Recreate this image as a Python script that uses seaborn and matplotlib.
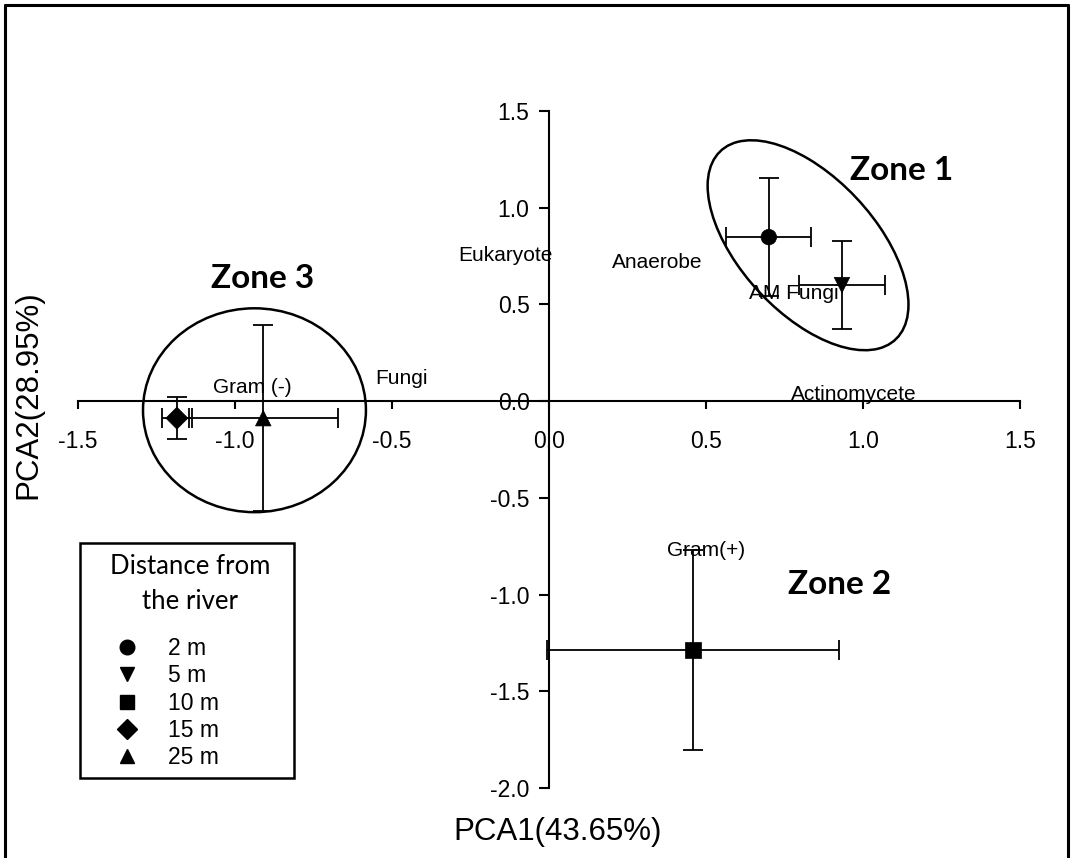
import numpy as np
import pandas as pd
import matplotlib
matplotlib.use("Agg")
import matplotlib.pyplot as plt
from matplotlib.patches import Ellipse, Rectangle
from matplotlib.lines import Line2D
import seaborn as sns

# PCA scores (mean +/- SE) of soil microbial groups by distance from the river
distances = ["2 m", "5 m", "10 m", "15 m", "25 m"]
pc1 = [0.70, 0.933, 0.459, -1.185, -0.91]
pc2 = [0.848, 0.60, -1.287, -0.088, -0.088]
pc1_err = [0.135, 0.138, 0.465, 0.048, 0.237]
pc2_err = [0.305, 0.227, 0.517, 0.11, 0.48]
marker_map = {"2 m": "o", "5 m": "v", "10 m": "s", "15 m": "D", "25 m": "^"}

# Loading labels of the microbial groups
group_names = ["Eukaryote", "Anaerobe", "AM Fungi", "Actinomycete",
               "Gram (-)", "Fungi", "Gram(+)"]
group_x = [-0.29, 0.20, 0.637, 0.771, -1.07, -0.554, 0.376]
group_y = [0.755, 0.718, 0.558, 0.036, 0.072, 0.119, -0.77]

# Zone labels and enclosing ellipses (centre, width, height, angle)
zone_names = ["Zone 1", "Zone 2", "Zone 3"]
zone_x = [0.959, 0.761, -1.076]
zone_y = [1.19, -0.95, 0.635]
zone1_ellipse = (0.825, 0.806, 1.159, 0.494, -67.2)
zone3_ellipse = (-0.938, -0.047, 0.71, 1.054, 0.0)

xticks = [-1.5, -1.0, -0.5, 0.0, 0.5, 1.0, 1.5]
yticks = [1.5, 1.0, 0.5, 0.0, -0.5, -1.0, -1.5, -2.0]

df = pd.DataFrame({"distance": distances, "PCA1": pc1, "PCA2": pc2,
                   "e1": pc1_err, "e2": pc2_err})

sns.set_style("white")
plt.rcParams["font.family"] = ["Liberation Sans", "DejaVu Sans"]
plt.rcParams.update({"text.color": "black", "axes.labelcolor": "black",
                     "xtick.color": "black", "ytick.color": "black"})

W, H = 1073, 858
fig = plt.figure(figsize=(W / 100, H / 100), dpi=100)
fig.patch.set_facecolor("white")
ax = fig.add_axes([78 / W, (H - 788) / H, 942 / W, 677 / H])
ax.set_xlim(-1.5, 1.5)
ax.set_ylim(-2.0, 1.5)
ax.set_facecolor("none")

# error bars
for _, r in df.iterrows():
    ax.errorbar(r["PCA1"], r["PCA2"], xerr=r["e1"], yerr=r["e2"], fmt="none",
                ecolor="black", elinewidth=1.3, capsize=7, capthick=1.3,
                zorder=3, clip_on=False)

sns.scatterplot(data=df, x="PCA1", y="PCA2", style="distance",
                markers=marker_map, color="black", s=125, edgecolor="black",
                linewidth=0.5, legend=False, ax=ax, zorder=4, clip_on=False)

# cross-shaped axes through the origin
for side in ["top", "right"]:
    ax.spines[side].set_visible(False)
ax.spines["left"].set_position(("data", 0))
ax.spines["bottom"].set_position(("data", 0))
ax.spines["left"].set_bounds(-2.0, 1.5)
ax.spines["bottom"].set_bounds(-1.5, 1.5)
for s in ["left", "bottom"]:
    ax.spines[s].set_linewidth(1.5)
    ax.spines[s].set_color("black")
ax.set_xticks(xticks)
ax.set_yticks(yticks)
ax.set_xticklabels([f"{v:.1f}" for v in xticks])
ax.set_yticklabels([f"{v:.1f}" for v in yticks])
ax.tick_params(axis="x", direction="out", length=6, width=1.5,
               labelsize=16.5, pad=15, bottom=True)
ax.tick_params(axis="y", direction="out", length=7, width=1.5,
               labelsize=16.5, pad=7, left=True)
ax.set_xlabel("")
ax.set_ylabel("")

# zone ellipses
for cx, cy, w, h, ang in [zone1_ellipse, zone3_ellipse]:
    ax.add_patch(Ellipse((cx, cy), w, h, angle=ang, fill=False,
                         edgecolor="black", linewidth=1.8, zorder=2,
                         clip_on=False))

for name, x, y in zip(group_names, group_x, group_y):
    ax.text(x, y, name, fontsize=15, ha="left", va="center", zorder=5)

for name, x, y in zip(zone_names, zone_x, zone_y):
    ax.text(x, y, name, fontsize=24, fontweight="bold", family="Lato",
            ha="left", va="center", zorder=5)

# axis titles
fig.text(558 / W, 1 - 832 / H, "PCA1(43.65%)", fontsize=22.5,
         ha="center", va="center")
fig.text(28 / W, 1 - 395 / H, "PCA2(28.95%)", fontsize=22.5, rotation=90,
         ha="center", va="center")

# legend box
fig.add_artist(Rectangle((80 / W, 1 - 778 / H), 214 / W, 235 / H,
                         transform=fig.transFigure, fill=False,
                         edgecolor="black", linewidth=1.8))
fig.text(190 / W, 1 - 584 / H, "Distance from\nthe river", family="Lato",
         fontsize=18.5, ha="center", va="center", linespacing=1.5)
handles = [Line2D([], [], linestyle="none", marker=marker_map[d],
                  color="black", markersize=10.5) for d in distances]
fig.legend(handles, distances, loc="upper left",
           bbox_to_anchor=(113 / W, 1 - 637 / H), frameon=False,
           fontsize=16.5, handlelength=1.2, handletextpad=1.2,
           labelspacing=0.19, borderpad=0, borderaxespad=0)

# outer frame
frame_kw = dict(transform=fig.transFigure, color="black", linewidth=2.2)
fig.add_artist(Line2D([5 / W, 5 / W], [0, 1 - 5 / H], **frame_kw))
fig.add_artist(Line2D([5 / W, 1068 / W], [1 - 5 / H, 1 - 5 / H], **frame_kw))
fig.add_artist(Line2D([1068 / W, 1068 / W], [0, 1 - 5 / H], **frame_kw))

fig.savefig("out.png", dpi=100, facecolor="white")
